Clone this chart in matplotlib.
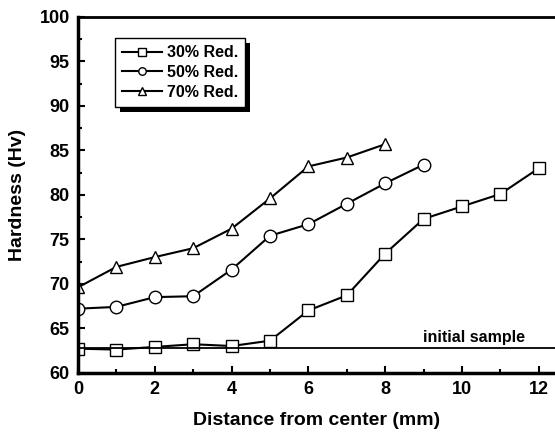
import numpy as np
import matplotlib.pyplot as plt
from matplotlib.patches import Rectangle

plt.rcParams['font.family'] = ['Liberation Sans', 'DejaVu Sans']
plt.rcParams['font.weight'] = 'bold'

# distance from center (mm)
x30 = [0, 1, 2, 3, 4, 5, 6, 7, 8, 9, 10, 11, 12]
x50 = [0, 1, 2, 3, 4, 5, 6, 7, 8, 9]
x70 = [0, 1, 2, 3, 4, 5, 6, 7, 8]

# hardness values (Hv)
h30 = [62.7, 62.6, 62.9, 63.2, 63.0, 63.6, 67.0, 68.7, 73.4, 77.3, 78.7, 80.1, 83.0]
h50 = [67.2, 67.4, 68.5, 68.6, 71.6, 75.4, 76.7, 79.0, 81.3, 83.4]
h70 = [69.6, 71.9, 73.0, 74.0, 76.2, 79.6, 83.2, 84.2, 85.7]

initial_hv = 62.8
labels = ['30% Red.', '50% Red.', '70% Red.']

fig = plt.figure(figsize=(5.55, 4.34), dpi=100)
ax = fig.add_axes([78/555, 1 - 372.7/434, (555 - 78)/555, (372.7 - 17)/434])

style = dict(color='black', lw=1.5, ms=9, mfc='white', mec='black', mew=1.0)
ax.plot(x30, h30, marker='s', label=labels[0], **style)
ax.plot(x50, h50, marker='o', label=labels[1], **style)
ax.plot(x70, h70, marker='^', label=labels[2], **style)

ax.axhline(initial_hv, color='black', lw=1.3)
ax.text(10.32, 63.5, 'initial sample', ha='center', va='baseline', fontsize=11.5, fontweight='bold')

ax.set_xlim(0, 12.42)
ax.set_ylim(60, 100)
ax.set_xticks(np.arange(0, 13, 2))
ax.set_xticks(np.arange(1, 13, 2), minor=True)
ax.set_yticks(np.arange(60, 101, 5))
ax.set_yticks(np.arange(62.5, 100, 5), minor=True)
ax.tick_params(which='major', direction='in', length=5, width=1.5, labelsize=13, pad=6)
ax.tick_params(which='minor', direction='in', length=3, width=1.5)
ax.tick_params(top=False, right=False)

ax.spines['right'].set_visible(False)
ax.spines['left'].set_linewidth(2.5)
ax.spines['bottom'].set_linewidth(2.5)
ax.spines['top'].set_linewidth(2.0)

ax.set_xlabel('Distance from center (mm)', fontsize=14, fontweight='bold', labelpad=10)
ax.set_ylabel('Hardness (Hv)', fontsize=14, fontweight='bold', labelpad=10)

leg = ax.legend(loc='upper left', bbox_to_anchor=(37/477, 1 - 21/355.7), numpoints=1,
                markerscale=0.6, handlelength=2.5, handletextpad=0.3,
                borderpad=0.45, labelspacing=0.3, fancybox=False,
                frameon=True, fontsize=11.5, borderaxespad=0, framealpha=1)
leg.get_frame().set_edgecolor('black')
leg.get_frame().set_linewidth(1.0)
leg.set_zorder(6)

# black drop shadow behind the legend box
fig.canvas.draw()
bb = leg.get_window_extent()
shadow = Rectangle((bb.x0 + 5, bb.y0 - 5), bb.width, bb.height, transform=None,
                   facecolor='black', edgecolor='none', zorder=5.5)
ax.add_artist(shadow)

fig.savefig('out.png', dpi=100)
